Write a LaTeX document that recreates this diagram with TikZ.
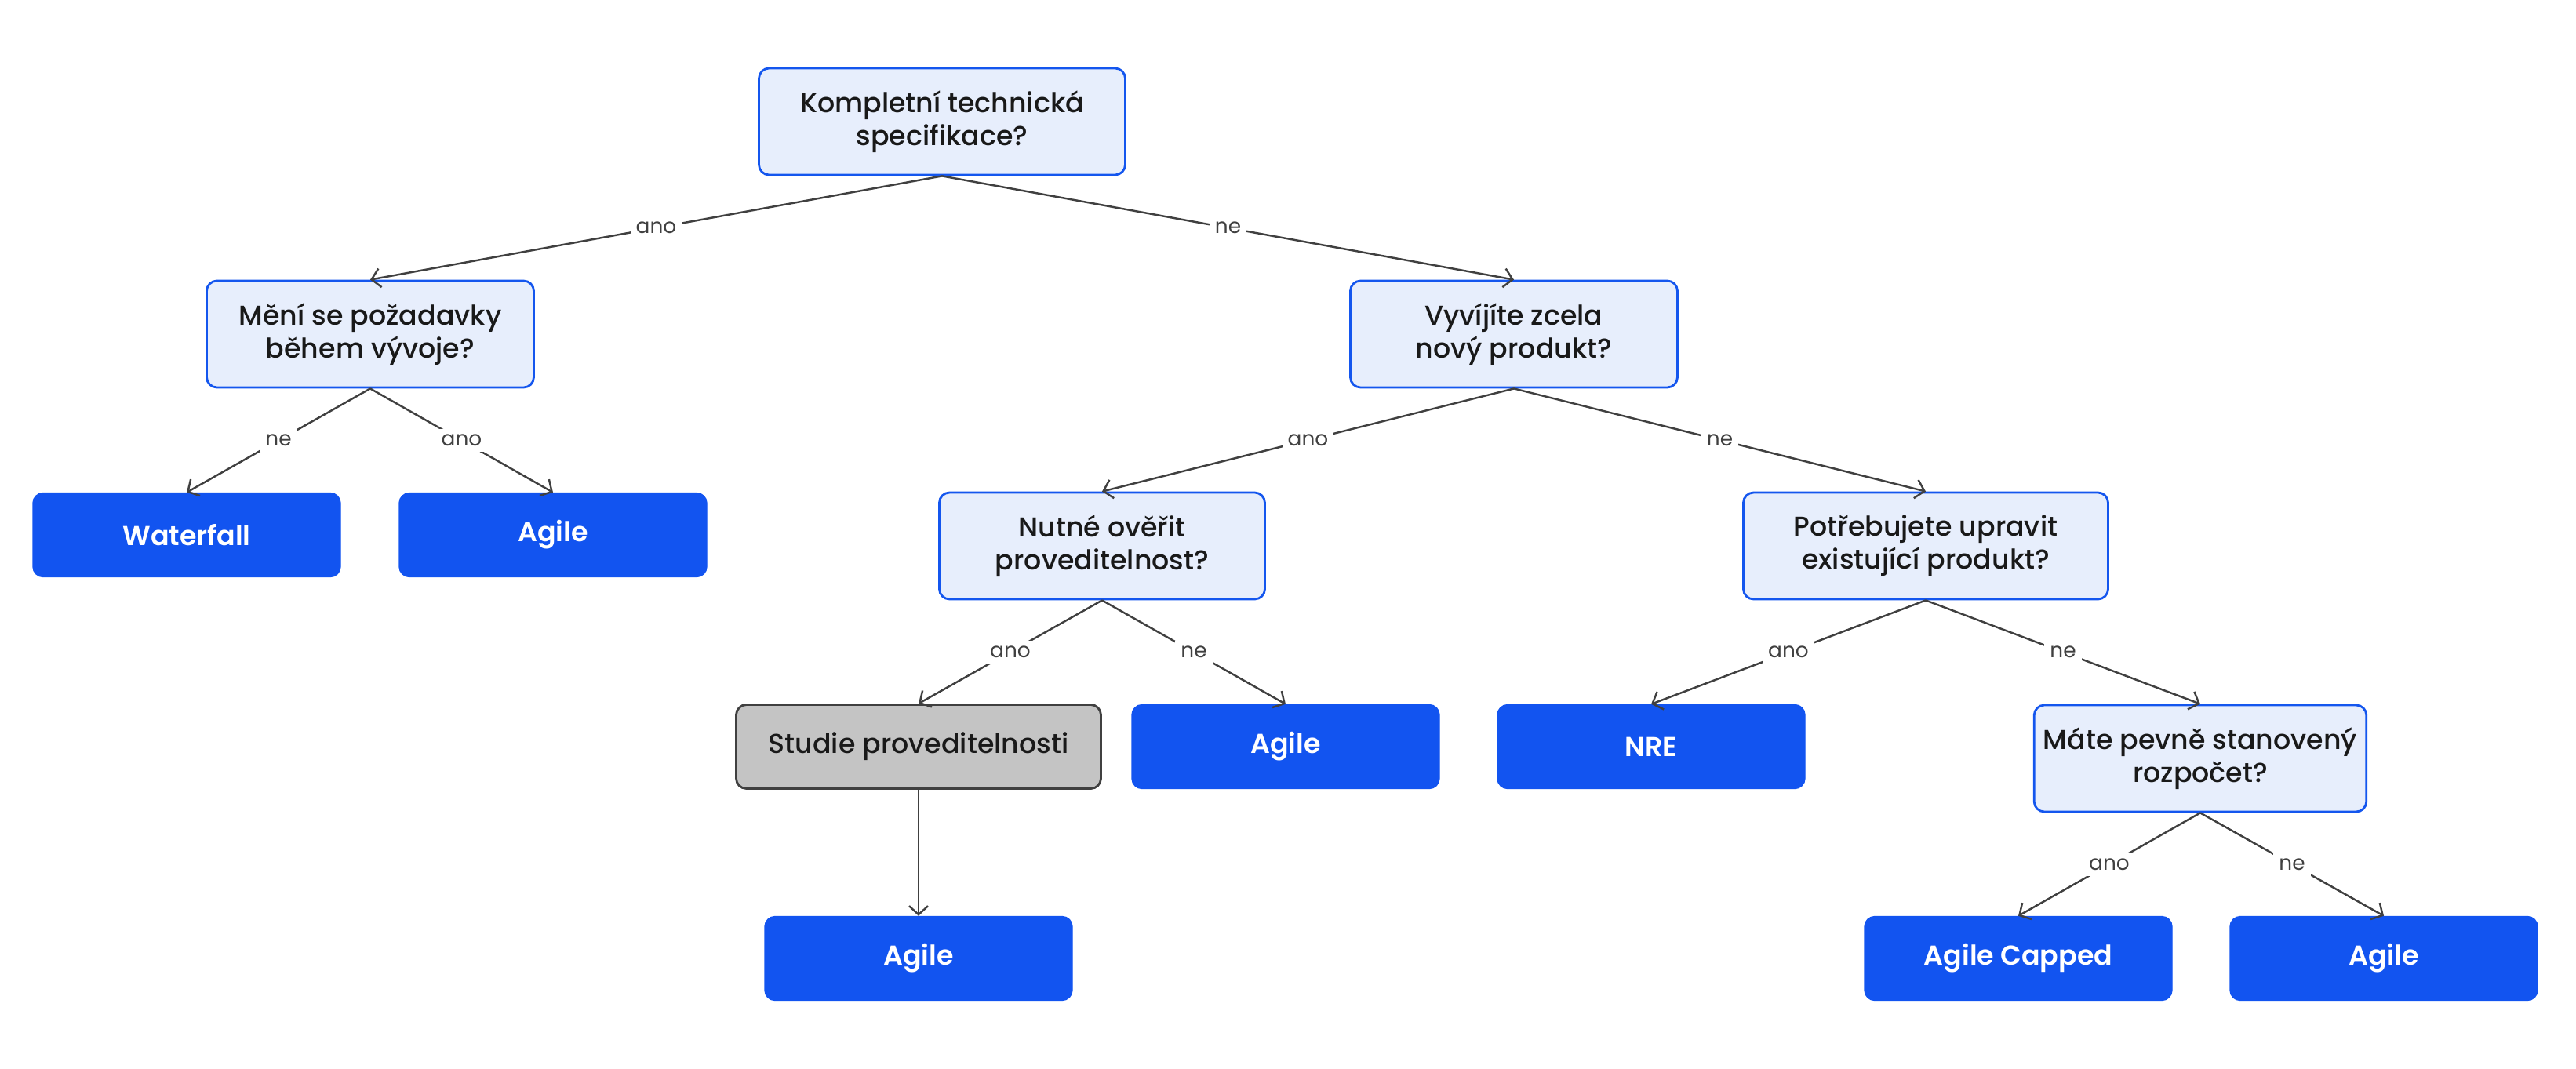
\documentclass[tikz,border=0pt]{standalone}
\usepackage{fontspec}
\setmainfont{Poppins}
\newfontfamily\medfont{Poppins Medium}
\newfontfamily\semifont{Poppins SemiBold}
\usetikzlibrary{arrows.meta}

\definecolor{qfill}{HTML}{E7EEFC}
\definecolor{qdraw}{HTML}{1456EE}
\definecolor{leafblue}{HTML}{1254F0}
\definecolor{studyfill}{HTML}{C4C4C4}
\definecolor{edgegray}{HTML}{404040}

\tikzset{
  quest/.style={rectangle,rounded corners=0.13cm,draw=qdraw,line width=0.8pt,fill=qfill,
    align=center,minimum height=1.36cm,font=\medfont\fontsize{9.9}{12}\selectfont,text=black!90},
  leaf/.style={rectangle,rounded corners=0.13cm,draw=leafblue,fill=leafblue,
    minimum width=3.92cm,minimum height=1.07cm,font=\semifont\fontsize{9.9}{12}\selectfont,text=white},
  study/.style={rectangle,rounded corners=0.13cm,draw=edgegray,line width=0.8pt,fill=studyfill,
    minimum width=4.65cm,minimum height=1.07cm,font=\medfont\fontsize{9.9}{12}\selectfont,text=black!90},
  edge/.style={draw=edgegray,line width=0.7pt,-{Straight Barb[length=1.1mm,width=2.4mm]}},
  lbl/.style={fill=white,inner sep=2pt,font=\fontsize{7.5}{9}\selectfont,text=edgegray}
}

\begin{document}
\begin{tikzpicture}
\useasboundingbox (0,0) rectangle (32.84,-13.62);

% questions
\node[quest,minimum width=4.67cm] (spec) at (12.01,-1.55) {Kompletní technická\\specifikace?};
\node[quest,minimum width=4.17cm] (zmeny) at (4.72,-4.26) {Mění se požadavky\\během vývoje?};
\node[quest,minimum width=4.17cm] (novy) at (19.30,-4.26) {Vyvíjíte zcela\\nový produkt?};
\node[quest,minimum width=4.15cm] (overit) at (14.05,-6.96) {Nutné ověřit\\proveditelnost?};
\node[quest,minimum width=4.65cm] (upravit) at (24.55,-6.96) {Potřebujete upravit\\existující produkt?};
\node[quest,minimum width=4.17cm] (rozpocet) at (28.05,-9.67) {Máte pevně stanovený\\rozpočet?};

% results
\node[leaf] (waterfall) at (2.38,-6.82) {Waterfall};
\node[leaf] (agileA) at (7.05,-6.82) {Agile};
\node[study] (studie) at (11.71,-9.52) {Studie proveditelnosti};
\node[leaf] (agileB) at (16.39,-9.52) {Agile};
\node[leaf] (nre) at (21.05,-9.52) {NRE};
\node[leaf] (agileC) at (11.71,-12.22) {Agile};
\node[leaf] (capped) at (25.73,-12.22) {Agile Capped};
\node[leaf] (agileD) at (30.39,-12.22) {Agile};

% connectors
\draw[edge] (spec.south) -- node[lbl] {ano} (zmeny.north);
\draw[edge] (spec.south) -- node[lbl] {ne} (novy.north);
\draw[edge] (zmeny.south) -- node[lbl] {ne} (waterfall.north);
\draw[edge] (zmeny.south) -- node[lbl] {ano} (agileA.north);
\draw[edge] (novy.south) -- node[lbl] {ano} (overit.north);
\draw[edge] (novy.south) -- node[lbl] {ne} (upravit.north);
\draw[edge] (overit.south) -- node[lbl] {ano} (studie.north);
\draw[edge] (overit.south) -- node[lbl] {ne} (agileB.north);
\draw[edge] (upravit.south) -- node[lbl] {ano} (nre.north);
\draw[edge] (upravit.south) -- node[lbl] {ne} (rozpocet.north);
\draw[edge] (studie.south) -- (agileC.north);
\draw[edge] (rozpocet.south) -- node[lbl] {ano} (capped.north);
\draw[edge] (rozpocet.south) -- node[lbl] {ne} (agileD.north);

\end{tikzpicture}
\end{document}
